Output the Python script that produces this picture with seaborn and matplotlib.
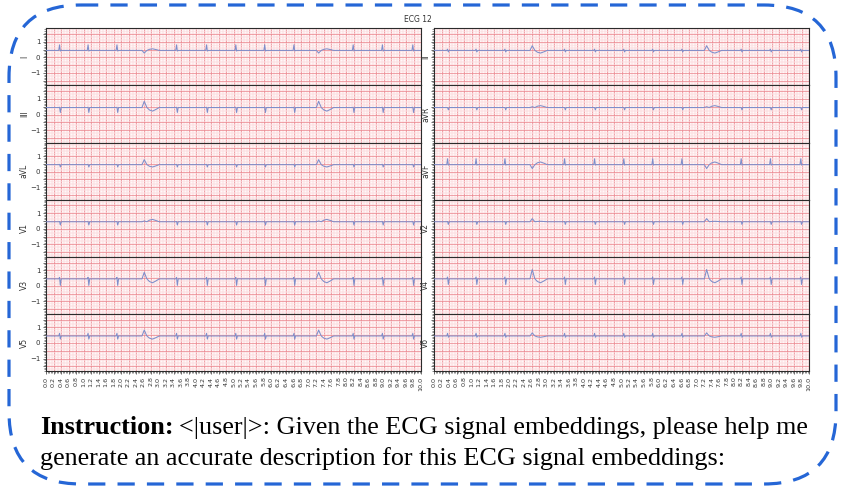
import numpy as np
import pandas as pd
import matplotlib
matplotlib.use("Agg")
import matplotlib.pyplot as plt
import seaborn as sns
from matplotlib.patches import FancyBboxPatch
from matplotlib.ticker import MultipleLocator, FixedLocator

# lead layout, row-major (left, right)
leads = ["I", "II", "III", "aVR", "aVL", "aVF", "V1", "V2", "V3", "V4", "V5", "V6"]

# R-peak times of the normal beats and of the two wide beats (s)
beat_times = [0.37, 1.13, 1.90, 3.49, 4.29, 5.07, 5.84, 6.62, 8.20, 8.98, 9.79]
wide_times = [2.62, 7.27]
baseline = 0.45

# narrow beat: first and second deflection per lead (mV above baseline)
narrow_a = [0.36, 0.08, 0.02, 0.00, 0.02, 0.38, 0.02, 0.02, 0.10, 0.12, 0.17, 0.17]
narrow_b = [-0.04, -0.10, -0.32, -0.15, -0.15, -0.03, -0.21, -0.17, -0.42, -0.36, -0.20, -0.08]
narrow_dt = [-0.03, -0.008, 0.012, 0.035]

# wide beat: sharp first deflection and broad second wave per lead
wide_1 = [-0.17, 0.30, 0.40, 0.05, 0.32, -0.25, 0.05, 0.20, 0.42, 0.60, 0.38, 0.20]
wide_2 = [0.10, -0.17, -0.23, 0.12, -0.15, 0.17, 0.15, 0.03, -0.25, -0.25, -0.20, -0.08]
wide_dt = [-0.06, 0.0, 0.07, 0.14, 0.22, 0.30, 0.40]
wide_p1 = [0, 1, 0, 0, 0, 0, 0]
wide_p2 = [0, 0, 0, 0.7, 1, 0.6, 0]

xtick_vals = np.round(np.arange(0, 10.01, 0.2), 1)


def lead_trace(i):
    pts = [(0.0, 0.0), (10.0, 0.0)]
    for bt in beat_times:
        pts += [(bt + d, v) for d, v in zip(narrow_dt, [0, narrow_a[i], narrow_b[i], 0])]
    for wt in wide_times:
        pts += [(wt + d, wide_1[i] * p1 + wide_2[i] * p2)
                for d, p1, p2 in zip(wide_dt, wide_p1, wide_p2)]
    pts.sort()
    return pd.DataFrame({"t": [p[0] for p in pts], "mv": [baseline + p[1] for p in pts]})


sns.set_style("white")
plt.rcParams["font.family"] = ["DejaVu Sans"]

W, H = 844, 488
fig = plt.figure(figsize=(W / 100, H / 100), dpi=100)

col_x = [46, 434]
col_w = 375
top, bottom = 28.3, 371.0
row_h = (bottom - top) / 6

major_c = "#ec8a92"
minor_c = "#fcdfe1"

for i, lead in enumerate(leads):
    r, c = divmod(i, 2)
    y0 = top + r * row_h
    ax = fig.add_axes([col_x[c] / W, 1 - (y0 + row_h) / H, col_w / W, row_h / H])
    ax.set_facecolor("#fff8f8")
    df = lead_trace(i)
    sns.lineplot(data=df, x="t", y="mv", ax=ax, color="#7d8ecb", linewidth=0.75,
                 estimator=None, sort=False, zorder=3)
    ax.set_xlim(0, 10)
    ax.set_ylim(-1.8, 1.87)
    ax.xaxis.set_major_locator(FixedLocator(xtick_vals))
    ax.xaxis.set_minor_locator(MultipleLocator(0.04))
    ax.yaxis.set_major_locator(FixedLocator([-1.5, -1, -0.5, 0, 0.5, 1, 1.5]))
    ax.yaxis.set_minor_locator(MultipleLocator(0.1))
    if c == 0:
        ax.set_yticklabels(["", "\u22121", "", "0", "", "1", ""])
    else:
        ax.set_yticklabels([])
    ax.grid(which="minor", color=minor_c, linewidth=0.4, zorder=0)
    ax.grid(which="major", color=major_c, linewidth=0.55, zorder=1)
    ax.set_axisbelow(True)
    ax.tick_params(axis="both", which="major", length=2.5, width=0.5, labelsize=5, pad=1.5,
                   left=True, bottom=True, colors="#333333")
    ax.tick_params(axis="both", which="minor", length=1.2, width=0.4, left=True, bottom=True,
                   colors="#333333")
    if r == 5:
        ax.set_xticklabels([f"{v:.1f}" for v in xtick_vals], rotation=90, fontsize=4.6)
    else:
        ax.set_xticklabels([])
    ax.set_xlabel("")
    ax.set_ylabel(lead, fontsize=5.5, color="#333333", va="center")
    ax.yaxis.set_label_coords(-0.058 if c == 0 else -0.022, 0.5)
    for s in ax.spines.values():
        s.set_color("#2b2b2b")
        s.set_linewidth(0.8)

fig.text(418 / W, 1 - 20 / H, "ECG 12", ha="center", va="center", fontsize=5.5, color="#333333")

# overlay for the dashed frame and caption
ov = fig.add_axes([0, 0, 1, 1], zorder=10)
ov.set_xlim(0, W)
ov.set_ylim(H, 0)
ov.axis("off")
ov.patch.set_alpha(0)
frame = FancyBboxPatch((9, 5), 827, 479, boxstyle="round,pad=0,rounding_size=72",
                       fill=False, edgecolor="#2566d6", linewidth=2.3,
                       linestyle=(0, (5.4, 3.8)))
ov.add_patch(frame)

serif = ["Liberation Serif", "DejaVu Serif"]
fs = 18.8
t1 = ov.text(40, 428, "Instruction:", fontsize=fs, fontweight="bold", family=serif,
             ha="left", va="center", color="black")
fig.canvas.draw()
bb = t1.get_window_extent(renderer=fig.canvas.get_renderer())
ov.text(bb.x1 + 5, 428, "<|user|>: Given the ECG signal embeddings, please help me",
        fontsize=fs, family=serif, ha="left", va="center", color="black")
ov.text(40, 459, "generate an accurate description for this ECG signal embeddings:",
        fontsize=fs, family=serif, ha="left", va="center", color="black")

fig.savefig("out.png", dpi=100)
